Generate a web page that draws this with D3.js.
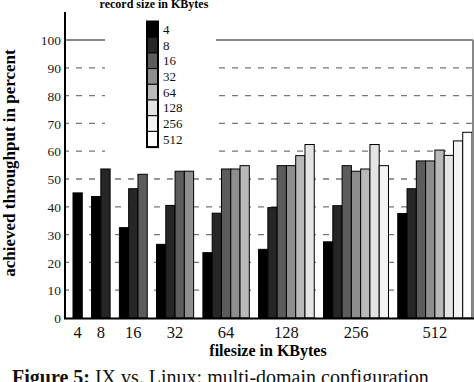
<!DOCTYPE html>
<html><head><meta charset="utf-8">
<script src="https://cdn.jsdelivr.net/npm/d3@7/dist/d3.min.js"></script>
<style>
html,body{margin:0;padding:0;background:#fff;}
svg{display:block;font-family:"Liberation Serif","DejaVu Serif",serif;}
</style></head>
<body>
<svg id="c" width="474" height="382"></svg>
<script>
const fileSizes = ["4","8","16","32","64","128","256","512"];
const recordSizes = ["4","8","16","32","64","128","256","512"];
// throughput (%) per record size, one value per file size (null = not measured)
const rec4   = [45, 43.7, 32.5, 26.5, 23.5, 24.7, 27.4, 37.6];
const rec8   = [null, 53.6, 46.5, 40.5, 37.7, 39.7, 40.4, 46.5];
const rec16  = [null, null, 51.7, 52.8, 53.6, 54.8, 54.8, 56.5];
const rec32  = [null, null, null, 52.8, 53.6, 54.8, 52.8, 56.5];
const rec64  = [null, null, null, null, 54.8, 58.4, 53.6, 60.4];
const rec128 = [null, null, null, null, null, 62.4, 62.4, 58.5];
const rec256 = [null, null, null, null, null, null, 54.8, 63.7];
const rec512 = [null, null, null, null, null, null, null, 66.8];
const yTicks = [0,10,20,30,40,50,60,70,80,90,100];
const colors = ["#000000","#262626","#5c5c5c","#8e8e8e","#b9b9b9","#e4e4e4","#f4f4f4","#ffffff"];

const series = [rec4,rec8,rec16,rec32,rec64,rec128,rec256,rec512];

// slot layout: each file-size group takes (n bars + 1 gap) slots
const groupStart = [];
let s = 0;
fileSizes.forEach((f,i)=>{ groupStart.push(s); s += (i+1) + 1; });
const totalSlots = s - 1;

const svg = d3.select("#c");
const y = d3.scaleLinear().domain([0,110]).range([318,12.2]);
const x = d3.scaleLinear().domain([0,totalSlots]).range([73,472]);
const slotW = x(1)-x(0);

// gridlines
const grid = svg.append("g");
yTicks.filter(t=>t>0 && t<100).forEach(t=>{
  grid.append("line").attr("x1",66).attr("x2",472).attr("y1",y(t)).attr("y2",y(t))
    .attr("stroke","#777").attr("stroke-width",1.3).attr("stroke-dasharray","6,7").attr("stroke-dashoffset",3);
});
grid.append("line").attr("x1",66).attr("x2",473).attr("y1",y(100)).attr("y2",y(100))
  .attr("stroke","#888").attr("stroke-width",2);

// bars
const bars = [];
fileSizes.forEach((f,gi)=>{
  series.forEach((ser,ri)=>{
    const v = ser[gi];
    if(v!=null) bars.push({slot: groupStart[gi]+ri, v, ri});
  });
});
svg.append("g").selectAll("rect").data(bars).join("rect")
  .attr("x",d=>x(d.slot)).attr("width",slotW)
  .attr("y",d=>y(d.v)).attr("height",d=>y(0)-y(d.v))
  .attr("fill",d=>colors[d.ri]).attr("stroke","#000").attr("stroke-width",1);

// right frame
svg.append("line").attr("x1",473).attr("x2",473).attr("y1",y(100)).attr("y2",y(0))
  .attr("stroke","#888").attr("stroke-width",2);

// legend background
svg.append("rect").attr("x",105).attr("y",12).attr("width",111).attr("height",153).attr("fill","#fff");

// axes
const yAxis = d3.axisLeft(y).tickValues(yTicks).tickSize(0).tickPadding(4);
const ya = svg.append("g").attr("transform","translate(65,0)").call(yAxis);
ya.select(".domain").remove();
ya.selectAll("text").attr("font-family","Liberation Serif").attr("font-size",13.5).attr("fill","#222").attr("dy","0.35em");
svg.append("line").attr("x1",65).attr("x2",65).attr("y1",12).attr("y2",319).attr("stroke","#000").attr("stroke-width",2);
svg.append("line").attr("x1",64).attr("x2",474).attr("y1",318.5).attr("y2",318.5).attr("stroke","#000").attr("stroke-width",2);

// x labels through a band-like mapping of group centers
const xLab = svg.append("g");
fileSizes.forEach((f,gi)=>{
  const cx = (x(groupStart[gi]) + x(groupStart[gi]+gi+1))/2;
  xLab.append("text").attr("x",cx).attr("y",338).attr("text-anchor","middle")
    .attr("font-size",16.5).attr("fill","#111").text(f);
});

svg.append("text").attr("x",268).attr("y",355.5).attr("text-anchor","middle")
  .attr("font-weight","bold").attr("font-size",16).text("filesize in KBytes");

svg.append("text").attr("transform","translate(15,163) rotate(-90)").attr("text-anchor","middle")
  .attr("font-weight","bold").attr("font-size",17).text("achieved throughput in percent");

// legend
svg.append("text").attr("x",154).attr("y",8).attr("text-anchor","middle")
  .attr("font-weight","bold").attr("font-size",12).text("record size in KBytes");
const lg = svg.append("g");
const sh = 15.7, lx = 147, ly = 21.5;
recordSizes.forEach((r,i)=>{
  lg.append("rect").attr("x",lx).attr("y",ly+i*sh).attr("width",11).attr("height",sh)
    .attr("fill",colors[i]).attr("stroke","#000").attr("stroke-width",1);
  lg.append("text").attr("x",163).attr("y",ly+i*sh+sh/2).attr("dy","0.35em")
    .attr("font-size",13).attr("fill","#111").text(r);
});
lg.append("rect").attr("x",lx).attr("y",ly).attr("width",11).attr("height",sh*8)
  .attr("fill","none").attr("stroke","#000").attr("stroke-width",2);

// caption
const cap = svg.append("text").attr("x",12).attr("y",384).attr("font-size",20).attr("fill","#111");
cap.append("tspan").attr("font-weight","bold").text("Figure 5:");
cap.append("tspan").text(" IX vs. Linux: multi-domain configuration");
</script>
</body></html>
